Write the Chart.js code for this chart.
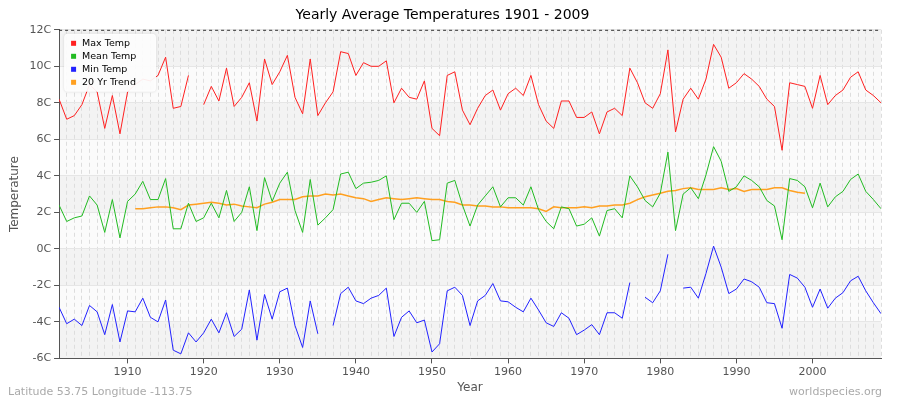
<!DOCTYPE html>
<html><head><meta charset="utf-8">
<script src="https://cdn.jsdelivr.net/npm/chart.js@4/dist/chart.umd.min.js"></script>
<style>html,body{margin:0;padding:0;background:#fff}</style>
</head><body><canvas id="c" width="900" height="400"></canvas>
<script>
const startYear = 1901;
const maxTemp = [8.2,7.1,7.3,7.9,9.0,8.6,6.6,8.4,6.3,8.6,9.0,9.3,9.2,9.5,10.5,7.7,7.8,9.5,null,7.9,8.9,8.1,9.9,7.8,8.3,9.1,7.0,10.4,9.0,9.7,10.6,8.3,7.4,10.4,7.3,8.0,8.6,10.8,10.7,9.5,10.2,10.0,10.0,10.3,8.0,8.8,8.3,8.2,9.2,6.6,6.2,9.5,9.7,7.6,6.8,7.7,8.4,8.7,7.6,8.5,8.8,8.4,9.5,7.9,7.0,6.6,8.1,8.1,7.2,7.2,7.5,6.3,7.5,7.7,7.3,9.9,9.1,8.0,7.7,8.5,10.9,6.4,8.2,8.8,8.2,9.3,11.2,10.5,8.8,9.1,9.6,9.3,8.9,8.2,7.8,5.4,9.1,9.0,8.9,7.7,9.5,7.9,8.4,8.7,9.4,9.7,8.7,8.4,8.0];
const meanTemp = [2.4,1.5,1.7,1.8,2.9,2.4,0.9,2.7,0.6,2.6,3.0,3.7,2.7,2.7,3.85,1.1,1.1,2.5,1.5,1.7,2.5,1.7,3.2,1.5,2.0,3.4,1.0,3.9,2.6,3.6,4.2,2.1,0.9,3.8,1.3,1.7,2.15,4.1,4.2,3.3,3.6,3.65,3.75,4.0,1.6,2.5,2.5,2.0,2.6,0.45,0.5,3.6,3.75,2.4,1.25,2.4,2.9,3.4,2.3,2.8,2.8,2.4,3.4,2.15,1.5,1.1,2.3,2.2,1.25,1.35,1.7,0.7,2.1,2.2,1.7,4.0,3.4,2.65,2.3,3.05,5.3,1.0,3.0,3.35,2.75,4.05,5.6,4.8,3.15,3.4,4.0,3.75,3.4,2.65,2.35,0.5,3.85,3.75,3.4,2.25,3.6,2.3,2.85,3.15,3.8,4.1,3.15,2.7,2.2];
const minTemp = [-3.2,-4.1,-3.85,-4.2,-3.1,-3.45,-4.7,-3.05,-5.1,-3.4,-3.45,-2.7,-3.75,-4.0,-2.8,-5.55,-5.75,-4.6,-5.1,-4.6,-3.85,-4.6,-3.5,-4.8,-4.4,-2.25,-5.0,-2.5,-3.85,-2.35,-2.15,-4.2,-5.4,-2.85,-4.65,null,-4.2,-2.45,-2.1,-2.85,-3.0,-2.7,-2.55,-2.15,-4.8,-3.75,-3.4,-4.05,-3.9,-5.65,-5.2,-2.3,-2.1,-2.55,-4.2,-2.85,-2.55,-1.9,-2.85,-2.9,-3.2,-3.45,-2.7,-3.35,-4.05,-4.25,-3.5,-3.8,-4.7,-4.45,-4.15,-4.7,-3.5,-3.5,-3.8,-1.85,null,-2.65,-2.95,-2.3,-0.3,null,-2.15,-2.1,-2.7,-1.35,0.15,-1.0,-2.45,-2.2,-1.65,-1.8,-2.1,-2.95,-3.0,-4.35,-1.4,-1.6,-2.1,-3.2,-2.2,-3.25,-2.7,-2.4,-1.75,-1.5,-2.3,-2.95,-3.55];
const trendStart = 1911;
const trend = [2.2,2.2,2.25,2.3,2.3,2.25,2.15,2.4,2.45,2.5,2.55,2.5,2.4,2.45,2.35,2.3,2.25,2.45,2.55,2.7,2.7,2.7,2.85,2.9,2.9,3.0,2.95,3.0,2.9,2.8,2.75,2.6,2.7,2.8,2.75,2.7,2.75,2.8,2.75,2.7,2.7,2.6,2.55,2.4,2.4,2.35,2.35,2.3,2.3,2.25,2.25,2.25,2.25,2.2,2.05,2.3,2.25,2.25,2.25,2.3,2.25,2.35,2.35,2.4,2.4,2.5,2.7,2.85,2.95,3.05,3.15,3.2,3.3,3.35,3.25,3.25,3.25,3.35,3.25,3.3,3.15,3.25,3.25,3.25,3.35,3.35,3.2,3.1,3.05];
const yTicks = [-6,-4,-2,0,2,4,6,8,10,12];

const pts = (arr, s) => arr.map((v,i)=>({x:s+i,y:v}));
const F='"DejaVu Sans", sans-serif';
const deco = {id:'deco',beforeDraw(ch){const {ctx,chartArea:a,scales:{y}}=ch;ctx.save();
  for(let v=-6;v<12;v+=2){const t=y.getPixelForValue(v+2),b=y.getPixelForValue(v);
    ctx.fillStyle=((v/2)%2===0)?'#fbfbfb':'#f3f3f3';ctx.fillRect(a.left,t,a.right-a.left,b-t);}
  ctx.restore();},
  afterDraw(ch){const {ctx,chartArea:a}=ch;ctx.save();ctx.font='11px '+F;ctx.fillStyle='#aaa';
    ctx.textAlign='left';ctx.textBaseline='alphabetic';ctx.fillText('Latitude 53.75 Longitude -113.75',8,395);ctx.textAlign='right';ctx.fillText('worldspecies.org',882,395);
    ctx.strokeStyle='#333';ctx.setLineDash([3,3]);ctx.beginPath();ctx.moveTo(a.left,a.top+0.5);ctx.lineTo(a.right,a.top+0.5);ctx.stroke();ctx.setLineDash([]);
    const x0=a.left+5,y0=a.top+4,w=92,h=58;
    ctx.fillStyle='rgba(255,255,255,0.92)';ctx.shadowColor='rgba(0,0,0,0.15)';ctx.shadowBlur=3;
    ctx.beginPath();ctx.roundRect(x0,y0,w,h,4);ctx.fill();ctx.shadowBlur=0;
    ctx.font='9.5px '+F;ctx.textAlign='left';ctx.textBaseline='middle';
    ch.data.datasets.forEach((d,i)=>{const yy=y0+10+i*13;ctx.fillStyle=d.borderColor;ctx.fillRect(x0+7,yy-3,5,5);
      ctx.fillStyle='#000';ctx.fillText(d.label,x0+18,yy);});
    ctx.restore();}};
const ds=(label,data,color,w)=>({label,data,borderColor:color,backgroundColor:color,borderWidth:w||1,pointRadius:0,tension:0,spanGaps:false});
new Chart(document.getElementById('c'),{type:'line',
 data:{datasets:[ds('Max Temp',pts(maxTemp,startYear),'#ff2020'),ds('Mean Temp',pts(meanTemp,startYear),'#22bb22'),ds('Min Temp',pts(minTemp,startYear),'#2222ff'),ds('20 Yr Trend',pts(trend,trendStart),'#ffa020',1.5)]},
 options:{responsive:false,animation:false,devicePixelRatio:1,
  layout:{padding:{left:4,right:19,top:0,bottom:5}},
  plugins:{title:{display:true,text:'Yearly Average Temperatures 1901 - 2009',color:'#000',font:{family:F,size:14,weight:'normal'},padding:{top:7,bottom:6}},
   legend:{display:false},tooltip:{enabled:false}},
  scales:{
   x:{type:'linear',min:startYear,max:2009,title:{display:true,text:'Year',color:'#555',font:{size:12,family:F},padding:0},
     afterBuildTicks(ax){const t=[];for(let v=1901;v<=2009;v++)t.push({value:v});ax.ticks=t;},
     ticks:{autoSkip:false,maxRotation:0,color:'#555',font:{size:11,family:F},padding:2,callback:v=>v%10===0?String(v):''},
     grid:{color:'#ddd',tickLength:5,tickColor:c=>c.tick&&c.tick.value%10===0?'#555':'rgba(0,0,0,0)'},border:{color:'#555',dash:[4,3]}},
   y:{min:-6,max:12,afterBuildTicks(ax){ax.ticks=yTicks.map(v=>({value:v}));},
     title:{display:true,text:'Temperature',color:'#555',font:{size:12,family:F}},
     ticks:{color:'#555',font:{size:11,family:F},callback:v=>v+'C'},
     grid:{color:'#e6e6e6',tickLength:5,tickColor:'#555'},border:{color:'#555'}}}},
 plugins:[deco]});
</script></body></html>
